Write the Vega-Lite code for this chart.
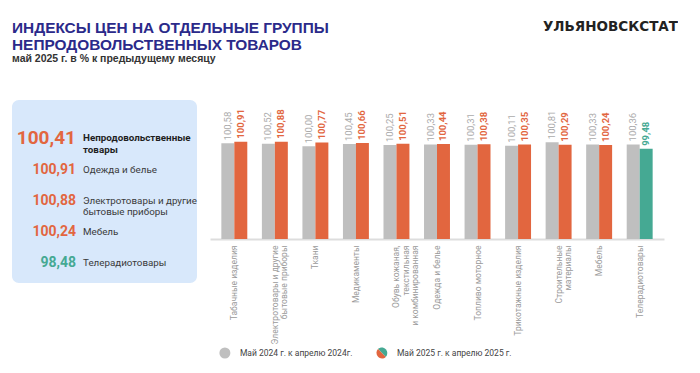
{
  "$schema": "https://vega.github.io/schema/vega-lite/v6.json",
  "background": "white",
  "padding": {"left": 12, "top": 20, "right": 0, "bottom": 0},
  "config": {
    "view": {"stroke": null},
    "font": "Roboto",
    "locale": {"number": {"decimal": ",", "thousands": " ", "grouping": [3], "currency": ["", ""]}}
  },
  "datasets": {
    "bars": [
      {"cat": "Табачные изделия", "period": "2024", "value": 100.58},
      {"cat": "Табачные изделия", "period": "2025", "value": 100.91},
      {"cat": "Электротовары и другие\nбытовые приборы", "period": "2024", "value": 100.52},
      {"cat": "Электротовары и другие\nбытовые приборы", "period": "2025", "value": 100.88},
      {"cat": "Ткани", "period": "2024", "value": 100.00},
      {"cat": "Ткани", "period": "2025", "value": 100.77},
      {"cat": "Медикаменты", "period": "2024", "value": 100.45},
      {"cat": "Медикаменты", "period": "2025", "value": 100.66},
      {"cat": "Обувь кожаная,\nтекстильная\nи комбинированная", "period": "2024", "value": 100.25},
      {"cat": "Обувь кожаная,\nтекстильная\nи комбинированная", "period": "2025", "value": 100.51},
      {"cat": "Одежда и белье", "period": "2024", "value": 100.33},
      {"cat": "Одежда и белье", "period": "2025", "value": 100.44},
      {"cat": "Топливо моторное", "period": "2024", "value": 100.31},
      {"cat": "Топливо моторное", "period": "2025", "value": 100.38},
      {"cat": "Трикотажные изделия", "period": "2024", "value": 100.11},
      {"cat": "Трикотажные изделия", "period": "2025", "value": 100.35},
      {"cat": "Строительные\nматериалы", "period": "2024", "value": 100.81},
      {"cat": "Строительные\nматериалы", "period": "2025", "value": 100.29},
      {"cat": "Мебель", "period": "2024", "value": 100.33},
      {"cat": "Мебель", "period": "2025", "value": 100.24},
      {"cat": "Телерадиотовары", "period": "2024", "value": 100.36},
      {"cat": "Телерадиотовары", "period": "2025", "value": 99.48}
    ],
    "summary": [
      {"label": "Непродовольственные\nтовары", "value": 100.41, "level": "total"},
      {"label": "Одежда и белье", "value": 100.91, "level": "group"},
      {"label": "Электротовары и другие\nбытовые приборы", "value": 100.88, "level": "group"},
      {"label": "Мебель", "value": 100.24, "level": "group"},
      {"label": "Телерадиотовары", "value": 98.48, "level": "group"}
    ],
    "legend": [
      {"period": "2024", "item": "Май 2024 г. к апрелю 2024г."},
      {"period": "2025", "item": "Май 2025 г. к апрелю 2025 г."}
    ]
  },
  "vconcat": [
    {
      "hconcat": [
        {
          "width": 400,
          "height": 1,
          "title": {
            "text": ["ИНДЕКСЫ ЦЕН НА ОТДЕЛЬНЫЕ ГРУППЫ", "НЕПРОДОВОЛЬСТВЕННЫХ ТОВАРОВ"],
            "subtitle": "май 2025 г. в % к предыдущему месяцу",
            "anchor": "start",
            "font": "Liberation Sans",
            "fontSize": 15.4,
            "fontWeight": "bold",
            "color": "#2b2a8a",
            "lineHeight": 16.3,
            "subtitleFont": "Liberation Sans",
            "subtitleFontSize": 10.5,
            "subtitleFontWeight": "bold",
            "subtitleColor": "#333333",
            "subtitlePadding": 1,
            "offset": 0
          },
          "data": {"values": [{}]},
          "mark": {"type": "text", "text": ""},
          "encoding": {}
        },
        {
          "width": 250,
          "height": 1,
          "title": {
            "text": "УЛЬЯНОВСКСТАТ",
            "anchor": "end",
            "font": "DejaVu Sans",
            "fontSize": 13.5,
            "fontWeight": "bold",
            "color": "#222222",
            "offset": 31
          },
          "data": {"values": [{}]},
          "mark": {"type": "text", "text": ""},
          "encoding": {}
        }
      ],
      "spacing": 16
    },
    {
      "vconcat": [
        {
          "hconcat": [
            {
              "width": 185,
              "height": 183,
              "view": {"fill": "#d8e8fb", "cornerRadius": 7, "stroke": null},
              "data": {"name": "summary"},
              "encoding": {
                "y": {"field": "label", "type": "nominal", "sort": null, "scale": {"type": "point", "padding": 0.93, "align": 0.66}, "axis": null},
                "x": {"datum": "anchor", "type": "nominal", "scale": {"type": "point", "padding": 1, "align": 0.3676}, "axis": null}
              },
              "layer": [
                {
                  "mark": {"type": "text", "align": "right", "baseline": "middle", "dx": -4, "fontWeight": "bold", "font": "Roboto"},
                  "encoding": {
                    "text": {"field": "value", "type": "quantitative", "format": ".2f"},
                    "size": {"condition": {"test": "datum.level == 'total'", "value": 19}, "value": 14},
                    "color": {"condition": {"test": "datum.value < 100", "value": "#45a993"}, "value": "#e2663f"}
                  }
                },
                {
                  "transform": [{"filter": "datum.level == 'total'"}],
                  "mark": {"type": "text", "align": "left", "baseline": "middle", "dx": 3, "fontSize": 9.8, "fontWeight": "bold", "color": "#1f1f1f", "lineBreak": "\n", "lineHeight": 11.5},
                  "encoding": {"text": {"field": "label", "type": "nominal"}}
                },
                {
                  "transform": [{"filter": "datum.level != 'total'"}],
                  "mark": {"type": "text", "align": "left", "baseline": "middle", "dx": 3, "fontSize": 9.8, "color": "#3a3a3a", "lineBreak": "\n", "lineHeight": 11.5},
                  "encoding": {"text": {"field": "label", "type": "nominal"}}
                }
              ]
            },
            {
              "width": 454,
              "height": 139,
              "data": {"name": "bars"},
              "encoding": {
                "x": {
                  "field": "cat", "type": "nominal", "sort": null,
                  "scale": {"paddingInner": 0.36, "paddingOuter": 0.28},
                  "axis": {
                    "title": null, "labelAngle": -90, "labelExpr": "split(datum.label, '\\n')",
                    "labelLineHeight": 9.5, "labelFontSize": 8.5, "labelColor": "#9a9a9a", "labelFont": "Roboto",
                    "ticks": false, "domainColor": "#dddddd", "domainWidth": 2, "labelPadding": 6
                  }
                },
                "xOffset": {"field": "period", "type": "nominal", "sort": null, "scale": {"paddingInner": 0}},
                "y": {"field": "value", "type": "quantitative", "scale": {"domain": [81.45, 109.25], "zero": false, "nice": false}, "axis": null}
              },
              "layer": [
                {
                  "mark": {"type": "bar", "clip": true},
                  "encoding": {
                    "color": {"condition": [{"test": "datum.period == '2024'", "value": "#bfbfbf"}, {"test": "datum.value < 100", "value": "#45a993"}], "value": "#e2663f"}
                  }
                },
                {
                  "transform": [{"filter": "datum.period == '2024'"}],
                  "mark": {"type": "text", "angle": 270, "align": "left", "baseline": "middle", "dx": 3, "fontSize": 9.5, "color": "#ababab"},
                  "encoding": {"text": {"field": "value", "type": "quantitative", "format": ".2f"}}
                },
                {
                  "transform": [{"filter": "datum.period == '2025'"}],
                  "mark": {"type": "text", "angle": 270, "align": "left", "baseline": "middle", "dx": 3, "fontSize": 9.5, "fontWeight": "bold"},
                  "encoding": {
                    "text": {"field": "value", "type": "quantitative", "format": ".2f"},
                    "color": {"condition": {"test": "datum.value < 100", "value": "#45a993"}, "value": "#e2663f"}
                  }
                }
              ]
            }
          ],
          "spacing": 13
        },
        {
          "width": 471,
          "height": 12,
          "data": {"name": "legend"},
          "encoding": {
            "x": {"field": "item", "type": "nominal", "sort": null, "scale": {"type": "point", "padding": 1, "align": 0.678}, "axis": null}
          },
          "layer": [
            {
              "transform": [{"filter": "datum.period == '2024'"}],
              "mark": {"type": "point", "filled": true, "shape": "circle", "size": 121, "color": "#bfbfbf", "opacity": 1}
            },
            {
              "transform": [{"filter": "datum.period == '2025'"}],
              "mark": {"type": "point", "filled": true, "shape": "M-0.707,-0.707A1,1 0 0,1 0.707,0.707Z", "size": 121, "color": "#45a993", "opacity": 1}
            },
            {
              "transform": [{"filter": "datum.period == '2025'"}],
              "mark": {"type": "point", "filled": true, "shape": "M0.707,0.707A1,1 0 0,1 -0.707,-0.707Z", "size": 121, "color": "#e2663f", "opacity": 1}
            },
            {
              "mark": {"type": "text", "align": "left", "baseline": "middle", "dx": 15, "fontSize": 8.5, "color": "#444444"},
              "encoding": {"text": {"field": "item", "type": "nominal"}}
            }
          ]
        }
      ],
      "spacing": 3
    }
  ],
  "spacing": 24
}
